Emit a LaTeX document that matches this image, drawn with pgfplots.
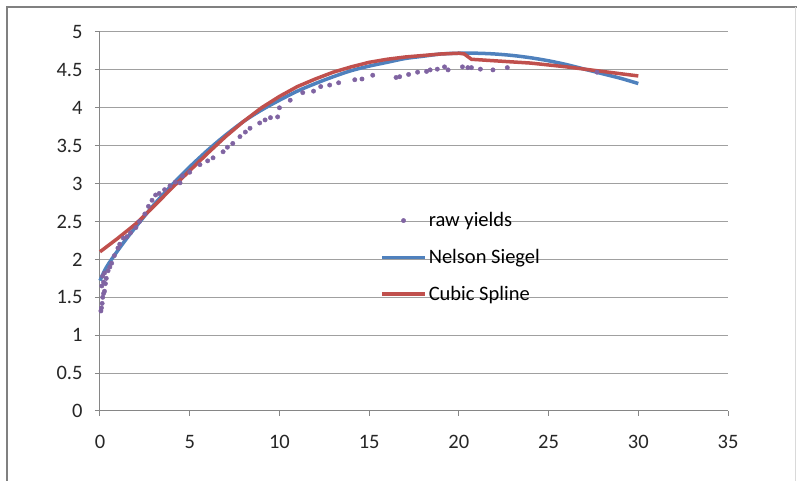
\documentclass[border=0pt]{standalone}
\usepackage{fontspec}
\setmainfont{Carlito}
\usepackage{pgfplots}
\pgfplotsset{compat=1.18}
\definecolor{rawc}{RGB}{128,100,162}
\definecolor{nsc}{RGB}{79,129,189}
\definecolor{csc}{RGB}{192,80,77}
\definecolor{gridc}{RGB}{160,160,160}
\definecolor{axc}{RGB}{134,134,134}
\begin{document}
\begin{tikzpicture}[x=1pt,y=1pt]
\useasboundingbox (-100,-70) rectangle (697,411);
\begin{axis}[
  scale only axis, width=628pt, height=379pt,
  xmin=0, xmax=35, ymin=0, ymax=5,
  xtick={0,5,...,35}, ytick={0,0.5,...,5},
  yticklabels={0,0.5,1,1.5,2,2.5,3,3.5,4,4.5,5},
  axis x line*=bottom, axis y line*=left,
  axis line style={draw=axc, line width=1pt, -},
  tick style={draw=axc, line width=1pt},
  tick align=outside, major tick length=5pt,
  ymajorgrids, grid style={draw=gridc, line width=1pt},
  tick label style={font=\fontsize{20.5}{22}\selectfont, text=black!85},
  /pgf/number format/assume math mode=true,
  xticklabel style={yshift=-16pt},
  yticklabel style={xshift=-9pt},
  legend cell align=left,
  legend style={at={(0.446,0.529)}, anchor=north west, draw=none, fill=none,
    font=\fontsize{20.5}{22}\selectfont, row sep=17pt, inner sep=0pt},
  clip=false,
]
\addlegendimage{legend image code/.code={\fill[rawc] (21.5pt,0) circle (2.2pt);}}
\addlegendentry{raw yields}
\addplot[only marks, mark=*, mark size=2.2pt, color=rawc, forget plot]
coordinates {
(0.05,1.32)(0.08,1.36)(0.12,1.42)(0.15,1.5)(0.2,1.55)(0.25,1.58)(0.1,1.65)
(0.2,1.7)(0.3,1.68)(0.35,1.75)(0.15,1.78)(0.25,1.82)(0.45,1.85)(0.55,1.9)
(0.65,1.95)(0.8,2.05)(1.0,2.15)(1.1,2.2)(1.3,2.28)(1.5,2.3)(1.7,2.35)
(2.0,2.42)(2.2,2.5)(2.5,2.6)(2.7,2.7)(2.9,2.78)(3.1,2.85)(3.3,2.87)
(3.6,2.92)(3.9,2.97)(4.2,3.02)(4.46,3.01)(4.6,3.1)(5.0,3.15)(5.57,3.25)
(6.0,3.3)(6.3,3.34)(6.86,3.42)(7.1,3.48)(7.4,3.53)(7.8,3.62)(8.1,3.68)
(8.36,3.73)(8.9,3.8)(9.2,3.84)(9.5,3.87)(9.9,3.88)(10.0,4.0)(10.6,4.1)
(11.3,4.2)(11.9,4.22)(12.3,4.28)(12.8,4.3)(13.3,4.33)(14.2,4.37)(14.6,4.38)
(15.2,4.43)(16.5,4.4)(16.7,4.41)(17.2,4.44)(17.7,4.47)(18.2,4.48)(18.4,4.5)
(18.8,4.51)(19.2,4.54)(19.4,4.5)(20.2,4.54)(20.5,4.53)(20.7,4.53)(21.2,4.51)
(21.9,4.5)(22.7,4.53)(27.7,4.47)
};
\addplot[nsc, line width=3.5pt, smooth, no marks,
  legend image code/.code={\draw[nsc,line width=3.5pt] (0,0) -- (43pt,0);}]
coordinates {
(0,1.72)(0.25,1.85)(0.5,1.95)(1,2.12)(1.5,2.28)(2,2.43)(3,2.72)(4,2.98)
(5,3.22)(6,3.44)(7,3.64)(8,3.82)(9,3.97)(10,4.1)(11,4.22)(12,4.32)(13,4.41)
(14,4.49)(15,4.55)(16,4.6)(17,4.65)(18,4.68)(19,4.71)(20,4.72)(21,4.72)
(22,4.71)(23,4.69)(24,4.66)(25,4.62)(26,4.57)(27,4.51)(28,4.45)(29,4.39)(30,4.32)
};
\addlegendentry{Nelson Siegel}
\addplot[csc, line width=3.5pt, no marks, line join=round,
  legend image code/.code={\draw[csc,line width=3.5pt] (0,0) -- (43pt,0);}]
coordinates {
(0,2.1)(1,2.28)(2,2.47)(3,2.7)(4,2.94)(5,3.17)(6,3.4)(7,3.62)(8,3.82)(9,4.0)
(10,4.15)(11,4.28)(12,4.38)(13,4.47)(14,4.54)(15,4.6)(16,4.64)(17,4.67)
(18,4.69)(19,4.71)(20,4.72)(20.3,4.71)(20.7,4.64)(22,4.62)(24,4.59)(26,4.54)
(28,4.48)(30,4.42)
};
\addlegendentry{Cubic Spline}
\end{axis}
\draw[black!50, line width=2pt] (-93,-72) -- (-93,404) -- (697,404);
\draw[black!15, line width=1pt] (695.5,404) -- (695.5,-72);
\end{tikzpicture}
\end{document}
